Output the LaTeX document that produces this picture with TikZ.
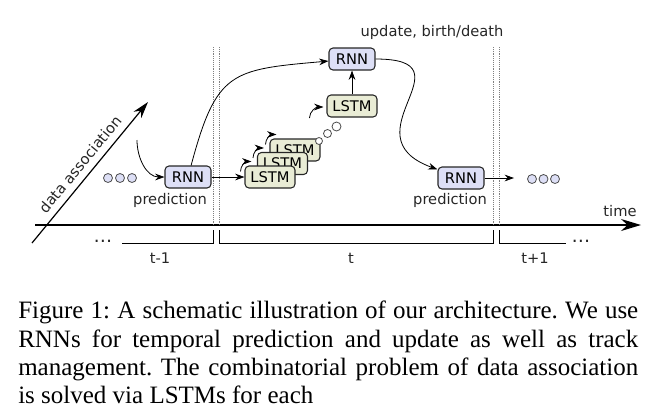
\documentclass[tikz,border=0pt]{standalone}
\usepackage{fontspec}
\setmainfont{Liberation Serif}
\newfontfamily\dejavu{DejaVu Sans}
\usetikzlibrary{calc,arrows.meta,positioning}
\definecolor{rnnblue}{RGB}{221,223,246}
\definecolor{lstmgreen}{RGB}{233,236,213}
\tikzset{box/.style={draw=black!85, thick, rounded corners=3pt, minimum height=16.5pt, inner xsep=4pt, font=\dejavu\fontsize{11}{13}\selectfont}, rnn/.style={box, fill=rnnblue, minimum width=34.5pt}, lstm/.style={box, fill=lstmgreen, minimum width=37.5pt}, lbl/.style={inner sep=0pt, font=\dejavu\fontsize{11}{13}\selectfont, text=black!85}, flow/.style={-{Stealth[length=7pt,width=5pt]}, semithick}, bubble/.style={draw=black!70, semithick}, sep/.style={gray, densely dotted, thin}}

\begin{document}
\begin{tikzpicture}[x=0.75pt, y=-0.75pt]
    \useasboundingbox (0,0) rectangle (652,419);
    \coordinate (T0) at (35,225);
    \coordinate (T1) at (641,225);
    \coordinate (D0) at (32,243);
    \coordinate (D1) at (148,102);
    \draw[line width=1pt, -{Stealth[length=15pt,width=9pt]}] (T0) -- (T1);
    \node[lbl] (time) at (620,211) {time};
    \draw[line width=0.9pt, -{Stealth[length=12.5pt,width=7.5pt]}] (D0) -- node[lbl, sloped, above=5pt] (assoc) {data association} (D1);
    \foreach \x in {213,219,493,499} \draw[sep] (\x,47) -- (\x,225);
    \draw[semithick] (122,243) -- (213,243) -- (213,230);
    \draw[semithick] (219,230) -- (219,243) -- (493,243) -- (493,230);
    \draw[semithick] (499,230) -- (499,243) -- (566,243);
    \node[lbl, font=\dejavu\fontsize{14}{16}\selectfont] (dotsL) at (103,241) {\ldots};
    \node[lbl, font=\dejavu\fontsize{14}{16}\selectfont] (dotsR) at (581,241) {\ldots};
    \node[lbl] (tA) at (160,258) {t-1};
    \node[lbl] (tB) at (351,258) {t};
    \node[lbl] (tC) at (535,258) {t+1};
    \node[rnn] (R1) at (188,177) {RNN};
    \node[lbl] (P1) at (170,200) {prediction};
    \node[lstm] (L3) at (295,150) {LSTM};
    \node[lstm] (L2) at (282.5,163.5) {LSTM};
    \node[lstm] (L1) at (270,177) {LSTM};
    \node[lstm] (L4) at (352,106) {LSTM};
    \node[rnn] (R2) at (352,59) {RNN};
    \node[lbl] (upd) at (432,32) {update, birth/death};
    \node[rnn] (R3) at (461,178) {RNN};
    \node[lbl] (P3) at (450,200) {prediction};
    \foreach \x in {108,120,132} \draw[bubble, fill=rnnblue] (\x,178) circle (4.5);
    \foreach \x in {532,543.5,555} \draw[bubble, fill=rnnblue] (\x,179) circle (4.5);
    \draw[bubble, fill=white] (319,141) circle (3.5);
    \draw[bubble, fill=white] (327.5,133.5) circle (4);
    \draw[bubble, fill=white] (336.5,126.5) circle (4.5);
    \coordinate (in1) at (137,140);
    \coordinate (out3) at (514,178);
    \draw[flow] (in1) to[out=-90,in=180] (R1);
    \draw[flow] (R1) -- (L1);
    \draw[flow] (R1) to[out=75,in=185,looseness=1.45] (R2);
    \foreach \n in {L1,L2,L3} \draw[flow] ($(\n.north west)+(-4,6)$) to[out=90,in=180] ++(11,-10);
    \draw[flow] ($(L4.west)+(-17,12)$) to[out=90,in=180] ($(L4.west)+(-3,1)$);
    \draw[flow] (L4) -- (R2);
    \draw[flow] (R2) to[out=0,in=160,looseness=2] (R3);
    \draw[flow] (R3) -- (out3);
    \node[anchor=north west, inner sep=0pt, text width=465pt, align=justify, font=\fontsize{18.75}{21.2}\selectfont\frenchspacing] (cap) at (18,301) {Figure 1: A schematic illustration of our architecture. We use\linebreak RNNs for temporal prediction and update as well as track\linebreak management. The combinatorial problem of data association\linebreak is solved via LSTMs for each};
\end{tikzpicture}
\end{document}
